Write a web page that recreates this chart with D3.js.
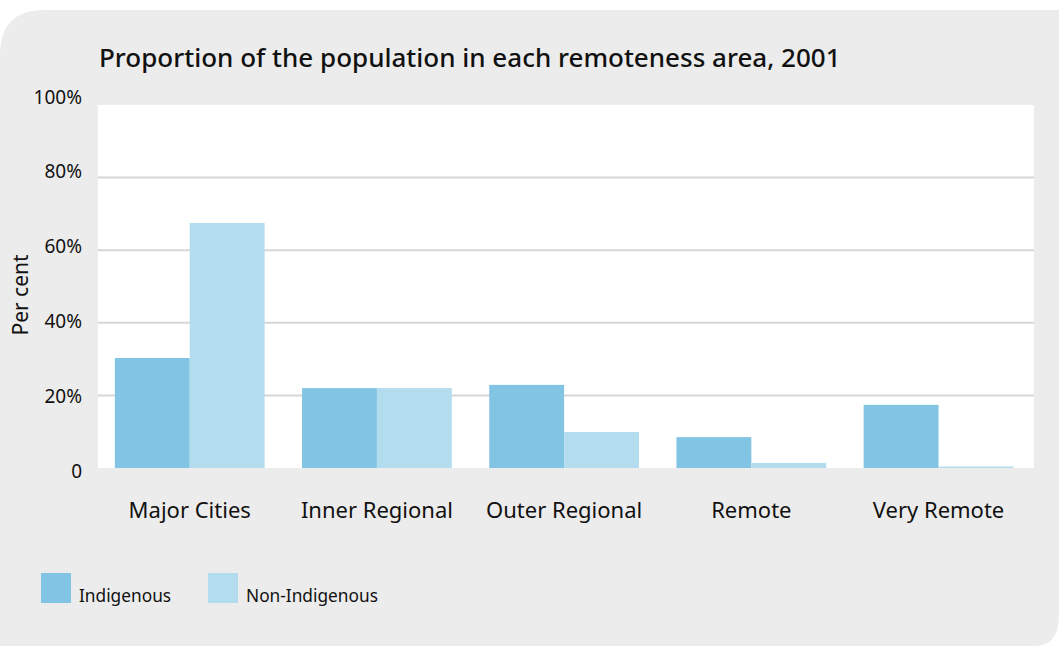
<!DOCTYPE html>
<html lang="en">
<head>
<meta charset="utf-8">
<title>Remoteness</title>
<script src="https://d3js.org/d3.v7.min.js"></script>
<style>
body { margin: 0; background: #fff; }
svg text { font-family: "Noto Sans", sans-serif; fill: #111; }
.grid line { stroke: #d6d6d6; stroke-width: 2; }
</style>
</head>
<body>
<div id="chart"></div>
<script>
// data (per cent of population)
var areas = ["Major Cities", "Inner Regional", "Outer Regional", "Remote", "Very Remote"];
var seriesNames = ["Indigenous", "Non-Indigenous"];
var indigenous = [30.3, 22.0, 22.9, 8.5, 17.4];
var nonIndigenous = [67.5, 22.0, 9.9, 1.4, 0.4];
var yTicks = [0, 20, 40, 60, 80, 100];
var colours = ["#81c4e4", "#b3dcee"];

var w = 1059, h = 646;

var svg = d3.select("#chart").append("svg")
    .attr("width", w)
    .attr("height", h);

// grey panel with rounded top-left and bottom-right corners
svg.append("path")
    .attr("d", "M0,55 Q0,10 45,10 L1059,10 L1059,615 Q1059,646 1035,646 L0,646 Z")
    .attr("fill", "#ececec");

var plot = { left: 98, right: 1034, top: 105, bottom: 468 };

var x = d3.scaleBand()
    .domain(areas)
    .range([plot.left, plot.right])
    .paddingInner(0.2)
    .paddingOuter(0.1)
    .align(0.45);

var xSub = d3.scaleBand()
    .domain(seriesNames)
    .range([0, x.bandwidth()]);

var y = d3.scaleLinear()
    .domain([0, 100])
    .range([plot.bottom, plot.top]);

// tick labels sit a little apart from the grid lines in the original
var yLabel = d3.scaleLinear()
    .domain([0, 100])
    .range([471, 97]);

svg.append("rect")
    .attr("x", plot.left)
    .attr("y", plot.top)
    .attr("width", plot.right - plot.left)
    .attr("height", plot.bottom - plot.top)
    .attr("fill", "#fff");

svg.append("g")
    .attr("class", "grid")
    .selectAll("line")
    .data(yTicks.filter(function(d) { return d > 0 && d < 100; }))
    .enter().append("line")
    .attr("x1", plot.left)
    .attr("x2", plot.right)
    .attr("y1", function(d) { return y(d); })
    .attr("y2", function(d) { return y(d); });

svg.append("g")
    .selectAll("text")
    .data(yTicks)
    .enter().append("text")
    .attr("x", 82)
    .attr("y", function(d) { return yLabel(d); })
    .attr("dy", "0.35em")
    .attr("text-anchor", "end")
    .style("font-size", "19px")
    .text(function(d) { return d === 0 ? "0" : d + "%"; });

var rows = areas.map(function(a, i) {
  return { area: a, values: [indigenous[i], nonIndigenous[i]] };
});

var groups = svg.append("g")
    .selectAll("g")
    .data(rows)
    .enter().append("g")
    .attr("transform", function(d) { return "translate(" + x(d.area) + ",0)"; });

groups.selectAll("rect")
    .data(function(d) { return d.values.map(function(v, j) { return { key: seriesNames[j], value: v, j: j }; }); })
    .enter().append("rect")
    .attr("x", function(d) { return xSub(d.key); })
    .attr("width", xSub.bandwidth())
    .attr("y", function(d) { return y(d.value); })
    .attr("height", function(d) { return y(0) - y(d.value); })
    .attr("fill", function(d) { return colours[d.j]; });

svg.append("g")
    .selectAll("text")
    .data(areas)
    .enter().append("text")
    .attr("x", function(d) { return x(d) + x.bandwidth() / 2; })
    .attr("y", 518)
    .attr("text-anchor", "middle")
    .style("font-size", "22px")
    .text(function(d) { return d; });

svg.append("text")
    .attr("transform", "translate(28,295) rotate(-90)")
    .attr("text-anchor", "middle")
    .style("font-size", "21px")
    .text("Per cent");

svg.append("text")
    .attr("x", 99)
    .attr("y", 67)
    .style("font-size", "26px")
    .style("font-weight", 500)
    .text("Proportion of the population in each remoteness area, 2001");

// legend
var legendX = [41, 208];
var legend = svg.append("g")
    .selectAll("g")
    .data(seriesNames)
    .enter().append("g")
    .attr("transform", function(d, i) { return "translate(" + legendX[i] + ",573)"; });

legend.append("rect")
    .attr("width", 30)
    .attr("height", 30)
    .attr("fill", function(d, i) { return colours[i]; });

legend.append("text")
    .attr("x", 38)
    .attr("y", 29)
    .style("font-size", "17.3px")
    .text(function(d) { return d; });
</script>
</body>
</html>
